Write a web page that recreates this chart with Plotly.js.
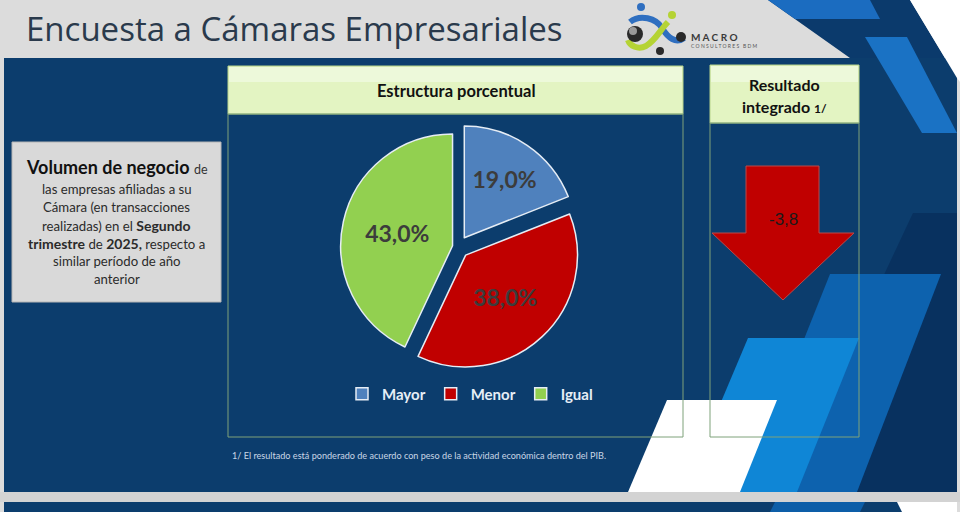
<!DOCTYPE html>
<html>
<head>
<meta charset="utf-8">
<script src="https://cdn.plot.ly/plotly-3.0.1.min.js"></script>
<style>html,body{margin:0;padding:0;background:#dcdcdc;}#chart{width:960px;height:512px;}</style>
</head>
<body>
<div id="chart"></div>
<script>
// ---- data ----
const categorias = ['Mayor', 'Menor', 'Igual'];
const porcentajes = [19.0, 38.0, 43.0];
const coloresSectores = ['#4f81bd', '#c00000', '#92d050'];
const resultadoIntegrado = [-3.8];
const tituloPagina = 'Encuesta a Cámaras Empresariales';
const tituloPie = 'Estructura porcentual';
const notaPie = '1/ El resultado está ponderado de acuerdo con peso de la actividad económica dentro del PIB.';

// ---- helpers (pixel -> paper) ----
const W = 960, H = 512;
const X = x => x / W;
const Y = y => 1 - y / H;
function rect(x0, y0, x1, y1, fill, line, lw) {
  return {type: 'rect', xref: 'paper', yref: 'paper', x0: X(x0), x1: X(x1), y0: Y(y1), y1: Y(y0),
    fillcolor: fill, line: {color: line || 'rgba(0,0,0,0)', width: lw || 0}, layer: 'below'};
}
function poly(pts, fill, line, lw) {
  return {type: 'path', xref: 'paper', yref: 'paper',
    path: 'M' + pts.map(p => X(p[0]).toFixed(5) + ',' + Y(p[1]).toFixed(5)).join('L') + 'Z',
    fillcolor: fill, line: {color: line || 'rgba(0,0,0,0)', width: lw || 0}, layer: 'below'};
}
function circ(cx, cy, r, fill) {
  return {type: 'circle', xref: 'paper', yref: 'paper', x0: X(cx - r), x1: X(cx + r), y0: Y(cy + r), y1: Y(cy - r),
    fillcolor: fill, line: {width: 0}, layer: 'below'};
}
function curve(d, color, width) {
  const s = d.map(c => c[0] + c.slice(1).map(p => X(p[0]).toFixed(5) + ',' + Y(p[1]).toFixed(5)).join(' ')).join(' ');
  return {type: 'path', xref: 'paper', yref: 'paper', path: s, line: {color: color, width: width}, layer: 'below'};
}

const shapes = [
  rect(0, 0, 960, 512, '#dcdcdc'),
  // main blue panel
  rect(4, 58, 957, 492, '#0c3d6d'),
  // top-right decorations
  poly([[768, 0], [910, 0], [957, 78], [957, 58], [850, 58]], '#0b3a6c'),
  poly([[910, 0], [960, 0], [960, 82], [957, 78]], '#ffffff'),
  poly([[768, 0], [870, 0], [880, 19], [795, 19]], '#1b6cc0'),
  poly([[865, 37], [907, 37], [957, 133], [922, 133]], '#1a72c4'),
  // darker right area
  poly([[913, 213], [957, 213], [957, 492], [782, 492]], '#08315f'),
  // bottom-right parallelograms
  poly([[830, 274], [941, 274], [857, 492], [743, 492]], '#0d62ae'),
  poly([[748, 338], [859, 338], [797, 492], [683, 492]], '#0f86d6'),
  poly([[667, 400], [777, 400], [740, 492], [628, 492]], '#ffffff'),
  // bottom strip
  rect(0, 492, 960, 502, '#d3d3d3'),
  rect(4, 502, 957, 512, '#0c3d6d'),
  poly([[775, 502], [865, 502], [860, 512], [770, 512]], '#0d5ea8'),
  poly([[897, 502], [957, 502], [957, 512], [902, 512]], '#ffffff'),
  // left text box
  rect(12, 142, 221, 302, '#d9d9d9', '#b5b5b5', 1),
  // pie header + frame
  rect(228, 66, 683, 114, '#e3f4c2', '#b7d38c', 1),
  rect(229, 67, 682, 82, '#edf9da'),
  rect(228, 114, 683, 437, 'rgba(0,0,0,0)', '#7ea27a', 1),
  // result header + frame
  rect(710, 65, 859, 123, '#e3f4c2', '#b7d38c', 1),
  rect(711, 66, 858, 82, '#edf9da'),
  rect(710, 123, 859, 437, 'rgba(0,0,0,0)', '#7ea27a', 1),
  // down arrow (resultado negativo)
  poly([[746, 166], [819, 166], [819, 233], [854, 233], [783, 300], [712, 233], [746, 233]], '#c00000', '#b94a4a', 1),
  // logo
  curve([['M', [630, 22]], ['C', [640, 14], [656, 18], [662, 28]], ['C', [668, 38], [676, 44], [684, 38]]], '#2f6fc0', 6),
  curve([['M', [668, 22]], ['C', [660, 30], [656, 40], [646, 46]], ['C', [638, 50], [630, 46], [628, 40]]], '#b5d334', 6),
  circ(641, 7, 4, '#2f6fc0'),
  circ(672, 15, 4, '#b5d334'),
  circ(635, 34, 8, '#2a2a2a'),
  circ(633, 31, 4, '#9a9a9a'),
  circ(660, 51, 4, '#2a2a2a'),
  circ(681, 37, 5, '#2a2a2a')
];

const ann = [];
function A(x, y, text, size, color, opts) {
  ann.push(Object.assign({xref: 'paper', yref: 'paper', x: X(x), y: Y(y), text: text, showarrow: false,
    xanchor: 'center', yanchor: 'middle',
    font: {family: 'Lato, sans-serif', size: size, color: color}}, opts || {}));
}
// page title
A(24, 28, tituloPagina, 33, '#2a3a4c', {xanchor: 'left', font: {family: 'Open Sans, sans-serif', size: 33, color: '#2a3a4c'}});
// logo text
A(689, 37, '<b>M A C R O</b>', 10, '#3a3a3a', {xanchor: 'left'});
A(689, 46, 'C O N S U L T O R E S   B D M', 5, '#555555', {xanchor: 'left'});
// left box text
const cx = 116.5;
const B = t => '<b><span style="font-size:14px">' + t + '</span></b>';
A(cx, 167, '<b>Volumen de negocio</b> <span style="font-size:12.5px;color:#333">de</span>', 18, '#111111');
A(cx, 189, 'las empresas afiliadas a su', 13.2, '#2b2b2b');
A(cx, 207, 'Cámara (en transacciones', 13.2, '#2b2b2b');
A(cx, 225, 'realizadas) en el ' + B('Segundo'), 13.2, '#2b2b2b');
A(cx, 243, B('trimestre') + ' de ' + B('2025,') + ' respecto a', 13.2, '#2b2b2b');
A(cx, 261, 'similar período de año', 13.2, '#2b2b2b');
A(cx, 279, 'anterior', 13.2, '#2b2b2b');
// headers
A(456, 91, '<b>' + tituloPie + '</b>', 16.5, '#111111');
A(784, 84, '<b>Resultado</b>', 16, '#111111');
A(784, 106, '<b>integrado <span style="font-size:12px">1/</span></b>', 16, '#111111');
// integrated result value
A(783, 219, resultadoIntegrado[0].toFixed(1).replace('.', ','), 17, '#1a1a1a', {font: {family: 'Liberation Sans, Arial, sans-serif', size: 17, color: '#1a1a1a'}});
// footnote
A(230, 455, notaPie, 9.1, '#c9d6e6', {xanchor: 'left'});

const trace = {
  type: 'pie',
  labels: categorias,
  values: porcentajes,
  sort: false,
  direction: 'clockwise',
  rotation: 0,
  pull: [0.1, 0.1, 0.05],
  marker: {colors: coloresSectores, line: {color: '#e6edf5', width: 1.5}},
  texttemplate: '%{percent:.1%}',
  textposition: 'inside',
  insidetextorientation: 'horizontal',
  textfont: {family: 'Lato, sans-serif', size: 23, color: '#3c3c3c', weight: 'bold'},
  hoverinfo: 'skip',
  domain: {x: [X(335), X(581)], y: [Y(370), Y(124)]}
};

const layout = {
  width: 960, height: 512,
  margin: {l: 0, r: 0, t: 0, b: 0},
  paper_bgcolor: '#dcdcdc',
  separators: ',.',
  showlegend: true,
  legend: {orientation: 'h', x: X(470), xanchor: 'center', y: Y(394), yanchor: 'middle',
    bgcolor: 'rgba(0,0,0,0)', font: {family: 'Lato, sans-serif', size: 15, color: '#e6eef6', weight: 'bold'}},
  shapes: shapes,
  annotations: ann
};

Plotly.newPlot('chart', [trace], layout, {staticPlot: true, displayModeBar: false});
</script>
</body>
</html>
